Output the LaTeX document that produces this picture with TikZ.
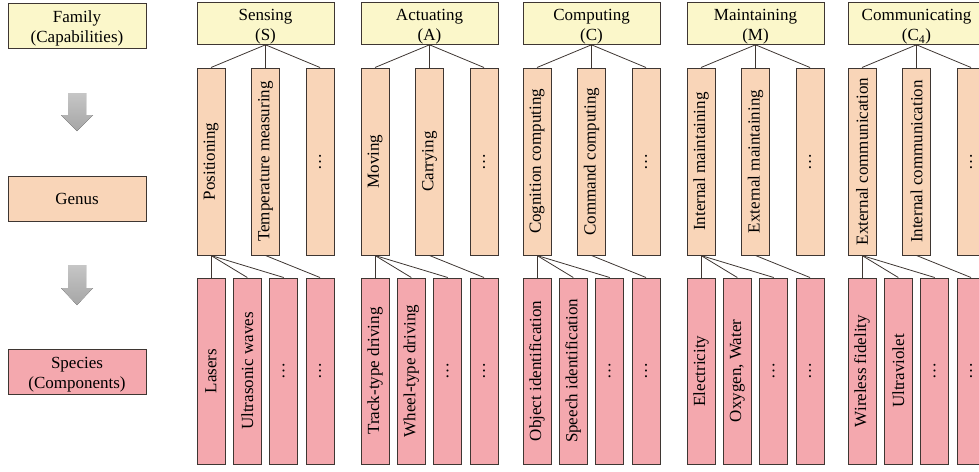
\documentclass[tikz,border=0pt]{standalone}
\usepackage{fontspec}
\setmainfont{Liberation Serif}
\definecolor{capyellow}{RGB}{251,247,202}
\definecolor{genpeach}{RGB}{249,213,184}
\definecolor{sppink}{RGB}{244,168,174}
\definecolor{boxline}{RGB}{62,54,50}

\tikzset{every picture/.style={line width=0.75pt}}
\tikzset{
  capbox/.style={draw=boxline, fill=capyellow, line width=1pt, minimum width=137pt, minimum height=41pt, inner sep=0pt, align=center, text height=38pt, font=\fontsize{17}{20}\selectfont},
  genbox/.style={draw=boxline, fill=genpeach, line width=1pt, rotate=90, minimum width=187pt, minimum height=28pt, inner sep=0pt, font=\fontsize{17}{20}\selectfont},
  spbox/.style={draw=boxline, fill=sppink, line width=1pt, rotate=90, minimum width=186pt, minimum height=28pt, inner sep=0pt, font=\fontsize{17}{20}\selectfont},
  legbox/.style={draw=boxline, line width=1pt, minimum width=138pt, minimum height=45pt, inner sep=0pt, align=center, font=\fontsize{17}{20}\selectfont},
  twoline/.style={text height=38pt},
  link/.style={draw=boxline, line width=0.8pt},
  blockarrow/.style={top color=gray!45, bottom color=gray!70, draw=none}
}

\begin{document}
\begin{tikzpicture}[x=1pt,y=1pt,yscale=-1,xscale=1]
\useasboundingbox (0,0) rectangle (979,471);
\clip (0,0) rectangle (979,471);

% Legend column
\node [legbox, twoline, fill=capyellow] (famL) at (77,25.5) {Family\\(Capabilities)};
\node [legbox, fill=genpeach] (genL) at (77,198.5) {Genus};
\node [legbox, twoline, fill=sppink] (spL) at (77,371.5) {Species\\(Components)};
% Arrows
\fill [blockarrow] (68,93) -- (86,93) -- (86,115) -- (93,115) -- (77,131) -- (61,115) -- (68,115) -- cycle;
\fill [blockarrow] (68,265) -- (86,265) -- (86,288) -- (93,288) -- (77,305) -- (61,288) -- (68,288) -- cycle;

% Sensing
\node [capbox] (capS) at (265.5,23.5) {Sensing\\(S)};
\node [genbox] (genS1) at (211,161.5) {Positioning};
\node [genbox] (genS2) at (265.5,161.5) {Temperature measuring};
\node [genbox] (genS3) at (320,161.5) {\dots};
\node [spbox] (spS1) at (211,371) {Lasers};
\node [spbox] (spS2) at (247.3,371) {Ultrasonic waves};
\node [spbox] (spS3) at (283.7,371) {\dots};
\node [spbox] (spS4) at (320,371) {\dots};
\draw [link] (capS.south) -- (genS1.east);
\draw [link] (capS.south) -- (genS2.east);
\draw [link] (capS.south) -- (genS3.east);
\draw [link] (genS1.west) -- (spS1.east);
\draw [link] (genS1.west) -- (spS2.east);
\draw [link] (genS1.west) -- (spS3.east);
\draw [link] (genS2.west) -- (spS4.east);

% Actuating
\node [capbox] (capA) at (429.5,23.5) {Actuating\\(A)};
\node [genbox] (genA1) at (375,161.5) {Moving};
\node [genbox] (genA2) at (429.5,161.5) {Carrying};
\node [genbox] (genA3) at (484,161.5) {\dots};
\node [spbox] (spA1) at (375,371) {Track-type driving};
\node [spbox] (spA2) at (411.3,371) {Wheel-type driving};
\node [spbox] (spA3) at (447.7,371) {\dots};
\node [spbox] (spA4) at (484,371) {\dots};
\draw [link] (capA.south) -- (genA1.east);
\draw [link] (capA.south) -- (genA2.east);
\draw [link] (capA.south) -- (genA3.east);
\draw [link] (genA1.west) -- (spA1.east);
\draw [link] (genA1.west) -- (spA2.east);
\draw [link] (genA1.west) -- (spA3.east);
\draw [link] (genA2.west) -- (spA4.east);

% Computing
\node [capbox] (capC) at (591.5,23.5) {Computing\\(C)};
\node [genbox] (genC1) at (537,161.5) {Cognition computing};
\node [genbox] (genC2) at (591.5,161.5) {Command computing};
\node [genbox] (genC3) at (646,161.5) {\dots};
\node [spbox] (spC1) at (537,371) {Object identification};
\node [spbox] (spC2) at (573.3,371) {Speech identification};
\node [spbox] (spC3) at (609.7,371) {\dots};
\node [spbox] (spC4) at (646,371) {\dots};
\draw [link] (capC.south) -- (genC1.east);
\draw [link] (capC.south) -- (genC2.east);
\draw [link] (capC.south) -- (genC3.east);
\draw [link] (genC1.west) -- (spC1.east);
\draw [link] (genC1.west) -- (spC2.east);
\draw [link] (genC1.west) -- (spC3.east);
\draw [link] (genC2.west) -- (spC4.east);

% Maintaining
\node [capbox] (capM) at (755.5,23.5) {Maintaining\\(M)};
\node [genbox] (genM1) at (701,161.5) {Internal maintaining};
\node [genbox] (genM2) at (755.5,161.5) {External maintaining};
\node [genbox] (genM3) at (810,161.5) {\dots};
\node [spbox] (spM1) at (701,371) {Electricity};
\node [spbox] (spM2) at (737.3,371) {Oxygen, Water};
\node [spbox] (spM3) at (773.7,371) {\dots};
\node [spbox] (spM4) at (810,371) {\dots};
\draw [link] (capM.south) -- (genM1.east);
\draw [link] (capM.south) -- (genM2.east);
\draw [link] (capM.south) -- (genM3.east);
\draw [link] (genM1.west) -- (spM1.east);
\draw [link] (genM1.west) -- (spM2.east);
\draw [link] (genM1.west) -- (spM3.east);
\draw [link] (genM2.west) -- (spM4.east);

% Communicating
\node [capbox] (capK) at (916.5,23.5) {Communicating\\(C\textsubscript{4})};
\node [genbox] (genK1) at (862,161.5) {External communication};
\node [genbox] (genK2) at (916.5,161.5) {Internal communication};
\node [genbox] (genK3) at (971,161.5) {\dots};
\node [spbox] (spK1) at (862,371) {Wireless fidelity};
\node [spbox] (spK2) at (898.3,371) {Ultraviolet};
\node [spbox] (spK3) at (934.7,371) {\dots};
\node [spbox] (spK4) at (971,371) {\dots};
\draw [link] (capK.south) -- (genK1.east);
\draw [link] (capK.south) -- (genK2.east);
\draw [link] (capK.south) -- (genK3.east);
\draw [link] (genK1.west) -- (spK1.east);
\draw [link] (genK1.west) -- (spK2.east);
\draw [link] (genK1.west) -- (spK3.east);
\draw [link] (genK2.west) -- (spK4.east);

\end{tikzpicture}
\end{document}
